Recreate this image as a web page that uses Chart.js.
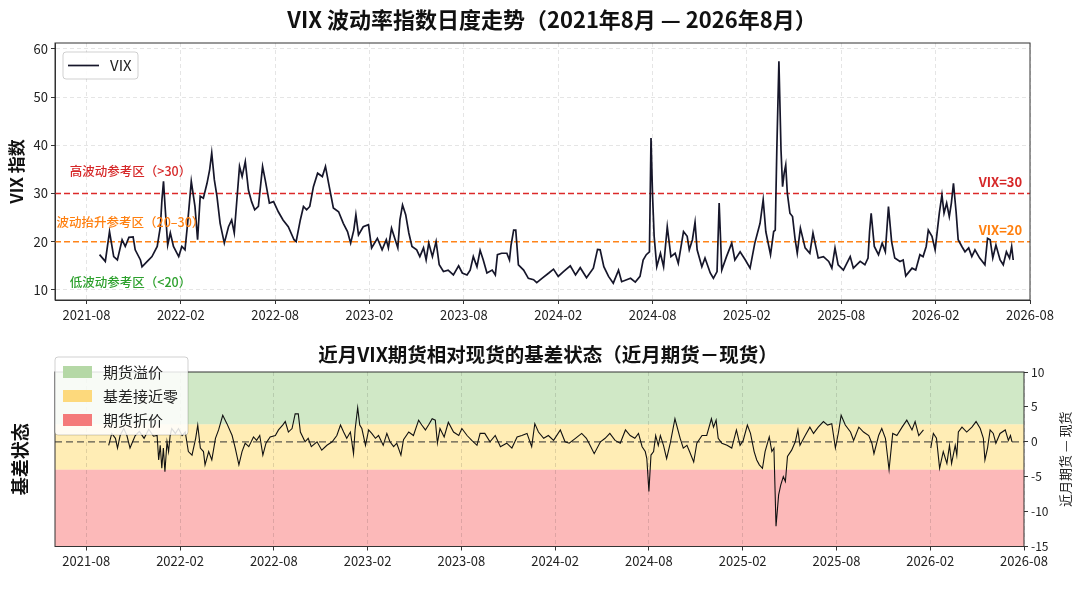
<!DOCTYPE html>
<html>
<head>
<meta charset="utf-8">
<title>VIX 波动率指数日度走势</title>
<script src="https://cdn.jsdelivr.net/npm/chart.js@4.4.1/dist/chart.umd.min.js"></script>
<style>
  html, body { margin: 0; padding: 0; background: #fff; }
  #wrap { position: relative; width: 1080px; height: 608px; }
  .box { position: absolute; left: 0; width: 1080px; }
  #topBox { top: 0; height: 330px; }
  #botBox { top: 330px; height: 278px; }
</style>
</head>
<body>
<div id="wrap">
  <div class="box" id="topBox"><canvas id="vixChart"></canvas></div>
  <div class="box" id="botBox"><canvas id="basisChart"></canvas></div>
</div>
<script>
// ---- data ----
const xRange = ['2021-06', '2026-08'];
const xTickLabels = ['2021-08', '2022-02', '2022-08', '2023-02', '2023-08', '2024-02',
                     '2024-08', '2025-02', '2025-08', '2026-02', '2026-08'];
const vixTicks = [10, 20, 30, 40, 50, 60];
const basisTicks = [-15, -10, -5, 0, 5, 10];
const refLevels = [30, 20];

const vixDates = [
  '2021-08-26','2021-09-07','2021-09-15','2021-09-23','2021-09-30','2021-10-09','2021-10-15','2021-10-22','2021-10-30',
  '2021-11-04','2021-11-14','2021-11-17','2021-11-27','2021-12-06','2021-12-16','2021-12-22','2021-12-25','2021-12-28',
  '2022-01-01','2022-01-06','2022-01-11','2022-01-17','2022-01-27','2022-02-03','2022-02-09','2022-02-14','2022-02-21',
  '2022-02-28','2022-03-03','2022-03-08','2022-03-14','2022-03-21','2022-03-26','2022-03-30','2022-04-05','2022-04-10',
  '2022-04-16','2022-04-24','2022-05-02','2022-05-08','2022-05-13','2022-05-18','2022-05-23','2022-05-28','2022-06-04',
  '2022-06-10','2022-06-16','2022-06-22','2022-06-29','2022-07-07','2022-07-12','2022-07-20','2022-07-28','2022-08-07',
  '2022-08-16','2022-08-26','2022-09-07','2022-09-11','2022-09-19','2022-09-25','2022-10-01','2022-10-07','2022-10-14',
  '2022-10-22','2022-11-01','2022-11-07','2022-11-13','2022-11-22','2022-12-02','2022-12-11','2022-12-19','2022-12-25',
  '2023-01-01','2023-01-05','2023-01-10','2023-01-19','2023-01-29','2023-02-05','2023-02-16','2023-02-25','2023-03-03',
  '2023-03-07','2023-03-13','2023-03-25','2023-03-29','2023-04-04','2023-04-10','2023-04-16','2023-04-22','2023-05-01',
  '2023-05-07','2023-05-14','2023-05-19','2023-05-24','2023-06-01','2023-06-08','2023-06-14','2023-06-22','2023-07-01',
  '2023-07-11','2023-07-21','2023-07-28','2023-08-07','2023-08-13','2023-08-19','2023-08-26','2023-09-02','2023-09-08',
  '2023-09-15','2023-09-25','2023-10-01','2023-10-05','2023-10-13','2023-10-23','2023-10-28','2023-11-01','2023-11-06',
  '2023-11-10','2023-11-15','2023-11-25','2023-12-04','2023-12-14','2023-12-20','2023-12-30',
  '2024-01-13','2024-01-22','2024-02-01','2024-02-11','2024-02-24','2024-03-04','2024-03-13','2024-03-25','2024-04-08',
  '2024-04-16','2024-04-21','2024-04-28','2024-05-07','2024-05-16','2024-05-26','2024-06-02','2024-06-19','2024-06-28',
  '2024-07-07','2024-07-13','2024-07-19','2024-07-25','2024-07-28','2024-08-01','2024-08-04','2024-08-09','2024-08-16',
  '2024-08-22','2024-08-29','2024-09-06','2024-09-14','2024-09-20','2024-09-30','2024-10-07','2024-10-11','2024-10-17',
  '2024-10-22','2024-10-26','2024-11-05','2024-11-11','2024-11-21','2024-11-27','2024-12-04','2024-12-08','2024-12-13',
  '2024-12-22',
  '2025-01-02','2025-01-08','2025-01-18','2025-01-28','2025-02-07','2025-02-16','2025-02-26','2025-03-02','2025-03-07',
  '2025-03-16','2025-03-22','2025-03-25','2025-03-28','2025-04-02','2025-04-06','2025-04-09','2025-04-12','2025-04-15',
  '2025-04-18','2025-04-23','2025-04-28','2025-05-03','2025-05-07','2025-05-13','2025-05-22','2025-06-01','2025-06-07',
  '2025-06-11','2025-06-17','2025-06-27','2025-07-07','2025-07-13','2025-07-19','2025-07-25','2025-08-05','2025-08-18',
  '2025-08-24','2025-09-07','2025-09-16','2025-09-22','2025-09-25','2025-09-28','2025-10-04','2025-10-12','2025-10-19',
  '2025-10-25','2025-11-01','2025-11-07','2025-11-13','2025-11-23','2025-11-29','2025-12-04','2025-12-16','2025-12-23',
  '2026-01-01','2026-01-07','2026-01-13','2026-01-17','2026-01-24','2026-01-30','2026-02-04','2026-02-08','2026-02-13',
  '2026-02-17','2026-02-22','2026-02-27','2026-03-01','2026-03-05','2026-03-10','2026-03-14','2026-03-21','2026-03-27',
  '2026-04-04','2026-04-10','2026-04-16','2026-04-25','2026-05-05','2026-05-10','2026-05-15','2026-05-20','2026-05-26',
  '2026-06-04','2026-06-10','2026-06-16','2026-06-22','2026-06-26','2026-06-29'
];
const vixValues = [
  17.3, 15.9, 22.1, 16.9, 16.2, 20.4, 19.0, 20.9, 21.0,
  18.3, 16.2, 14.8, 15.9, 16.9, 19.0, 23.1, 28.7, 32.5,
  27.3, 19.3, 21.8, 19.0, 16.9, 19.0, 18.3, 23.8, 32.5,
  27.3, 20.4, 29.4, 29.0, 32.1, 34.9, 38.4, 32.8, 29.4,
  23.8, 19.7, 23.1, 24.5, 21.8, 28.7, 35.6, 33.5, 36.6,
  30.7, 28.3, 26.6, 27.3, 35.6, 32.8, 28.0, 28.3, 26.2,
  24.5, 23.1, 20.4, 20.0, 24.5, 27.3, 26.6, 27.3, 31.4,
  34.2, 33.5, 35.6, 32.1, 27.0, 26.2, 23.8, 22.1, 19.7,
  22.4, 25.6, 21.4, 23.1, 23.5, 18.7, 20.7, 18.3, 20.4,
  18.7, 22.8, 18.7, 24.5, 27.6, 25.6, 21.8, 19.0, 18.3,
  16.9, 18.7, 16.2, 19.7, 16.9, 20.0, 15.2, 13.8, 14.1,
  13.1, 15.0, 13.5, 13.1, 14.1, 16.9, 14.8, 18.2, 16.2,
  13.5, 14.1, 13.1, 17.3, 17.6, 17.6, 16.2, 19.3, 22.4,
  22.4, 15.2, 14.1, 12.4, 12.1, 11.5, 12.4,
  13.5, 14.3, 12.8, 13.8, 15.0, 13.1, 14.6, 12.5, 14.5,
  18.4, 18.3, 14.8, 12.8, 11.4, 14.1, 11.7, 12.4, 11.6,
  12.8, 16.2, 17.3, 17.9, 41.5, 29.4, 21.1, 14.8, 17.6,
  14.8, 23.1, 16.9, 17.6, 15.5, 22.1, 21.1, 18.3, 20.4,
  24.0, 18.3, 14.8, 16.6, 13.5, 12.4, 13.8, 28.0, 14.1,
  16.9,
  19.7, 16.2, 17.9, 16.2, 14.5, 19.7, 23.8, 28.7, 22.1,
  17.3, 22.1, 22.4, 39.0, 57.4, 39.0, 31.4, 34.2, 35.9,
  30.1, 25.9, 25.2, 20.4, 17.6, 22.8, 18.7, 17.6, 21.8,
  19.7, 16.6, 16.9, 15.9, 14.5, 18.7, 15.2, 14.1, 16.9,
  14.5, 15.9, 15.2, 16.6, 22.1, 25.9, 19.0, 17.3, 19.7,
  17.9, 27.3, 20.0, 16.6, 15.9, 16.2, 12.9, 14.5, 14.1,
  17.3, 16.9, 19.0, 22.4, 21.1, 18.3, 22.1, 25.9, 29.7,
  25.9, 28.0, 25.2, 28.0, 32.1, 26.2, 20.4, 19.0, 17.9,
  18.7, 16.9, 18.3, 16.6, 15.2, 20.7, 20.4, 16.6, 19.3,
  16.2, 15.2, 17.9, 16.6, 19.0, 16.2
];

const basisDates = [
  '2021-09-14','2021-09-20','2021-09-27','2021-10-01','2021-10-06','2021-10-13','2021-10-19','2021-10-25','2021-10-30',
  '2021-11-05','2021-11-13','2021-11-22','2021-12-01','2021-12-10','2021-12-17','2021-12-20','2021-12-23','2021-12-26',
  '2021-12-29',
  '2022-01-02','2022-01-06','2022-01-09','2022-01-12','2022-01-15','2022-01-22','2022-01-28','2022-02-05','2022-02-11',
  '2022-02-17','2022-02-24','2022-03-01','2022-03-05','2022-03-10','2022-03-16','2022-03-19','2022-03-26','2022-04-02',
  '2022-04-09','2022-04-15','2022-04-23','2022-05-01','2022-05-11','2022-05-17','2022-05-24','2022-05-30','2022-06-06',
  '2022-06-13','2022-06-22','2022-06-28','2022-07-04','2022-07-10','2022-07-16','2022-07-24','2022-08-04','2022-08-10',
  '2022-08-18','2022-08-23','2022-08-29','2022-09-06','2022-09-12','2022-09-18','2022-09-22','2022-10-01','2022-10-07',
  '2022-10-13','2022-10-24','2022-11-03','2022-11-13','2022-11-23','2022-12-02','2022-12-09','2022-12-15','2022-12-21',
  '2022-12-28',
  '2023-01-04','2023-01-07','2023-01-12','2023-01-16','2023-01-20','2023-01-27','2023-02-03','2023-02-09','2023-02-16',
  '2023-02-22','2023-03-01','2023-03-08','2023-03-14','2023-03-21','2023-03-27','2023-04-05','2023-04-10','2023-04-20',
  '2023-04-29','2023-05-09','2023-05-15','2023-05-22','2023-05-28','2023-06-05','2023-06-11','2023-06-15','2023-06-20',
  '2023-06-28','2023-07-06','2023-07-16','2023-07-26','2023-08-02','2023-08-12','2023-08-21','2023-09-01','2023-09-07',
  '2023-09-16','2023-09-26','2023-10-06','2023-10-16','2023-10-28','2023-11-08','2023-11-18','2023-11-27','2023-12-07',
  '2023-12-16','2023-12-22','2023-12-29',
  '2024-01-09','2024-01-18','2024-01-28','2024-02-11','2024-02-20','2024-02-28','2024-03-10','2024-03-22','2024-04-01',
  '2024-04-08','2024-04-16','2024-04-28','2024-05-07','2024-05-16','2024-05-26','2024-06-06','2024-06-16','2024-06-25',
  '2024-07-04','2024-07-11','2024-07-18','2024-07-24','2024-07-27','2024-08-01','2024-08-05','2024-08-10','2024-08-14',
  '2024-08-19','2024-08-23','2024-08-29','2024-09-05','2024-09-12','2024-09-21','2024-10-01','2024-10-07','2024-10-14',
  '2024-10-19','2024-10-27','2024-11-03','2024-11-13','2024-11-22','2024-12-01','2024-12-05','2024-12-10','2024-12-14',
  '2024-12-21',
  '2025-01-01','2025-01-10','2025-01-19','2025-01-26','2025-02-02','2025-02-10','2025-02-16','2025-02-23','2025-02-28',
  '2025-03-03','2025-03-09','2025-03-14','2025-03-22','2025-03-27','2025-04-01','2025-04-05','2025-04-10','2025-04-14',
  '2025-04-19','2025-04-23','2025-04-27','2025-05-05','2025-05-12','2025-05-17','2025-05-21','2025-06-01','2025-06-10',
  '2025-06-17','2025-06-26','2025-07-06','2025-07-14','2025-07-22','2025-07-29','2025-08-05','2025-08-10','2025-08-18',
  '2025-08-28','2025-09-04','2025-09-14','2025-09-23','2025-10-03','2025-10-09','2025-10-13','2025-10-22','2025-10-28',
  '2025-11-05','2025-11-12','2025-11-19','2025-11-27','2025-12-07','2025-12-16','2025-12-26',
  '2026-01-02','2026-01-09','2026-01-18','2026-01-25','2026-02-02','2026-02-07','2026-02-13','2026-02-19','2026-02-26',
  '2026-03-03','2026-03-08','2026-03-12','2026-03-19','2026-03-22','2026-03-25','2026-04-02','2026-04-11','2026-04-21',
  '2026-04-29','2026-05-07','2026-05-13','2026-05-16','2026-05-21','2026-05-26','2026-06-02','2026-06-07','2026-06-15',
  '2026-06-25','2026-07-01','2026-07-05','2026-07-08'
];
const basisValues = [
  -0.5, 1.2, 0.5, -0.9, 0.9, 1.9, 0.9, -0.9, 0.0,
  0.9, 1.5, 0.5, 1.8, 0.8, 0.9, -2.6, -0.5, -3.8,
  -0.9,
  -4.3, 0.0, -1.4, 0.9, 1.9, 1.2, 1.9, 0.9, 1.4,
  -1.4, -1.9, 0.5, 2.4, -0.9, -1.4, -3.3, -1.4, -2.6,
  0.5, 1.7, 3.8, 2.6, 0.9, -0.9, -3.3, -1.4, -0.2,
  -0.7, 0.7, 0.2, 0.9, -1.9, -0.2, 0.7, 0.9, 1.7,
  2.4, 2.9, 1.4, 1.9, 4.0, 4.0, 1.4, 0.0, 0.5,
  -0.7, 0.0, -1.2, -0.5, 0.0, 0.9, 2.4, 1.4, 0.5,
  1.4,
  -1.7, 1.7, 4.9, 2.4, 1.9, -0.5, 1.7, 1.2, 0.5,
  0.9, -0.5, 1.2, 0.0, -0.7, -0.2, -1.9, 0.3, 1.4,
  0.9, 3.1, 2.4, 1.7, 2.4, 3.3, 3.1, -0.2, 1.9,
  0.7, 2.8, 1.4, 0.9, 1.9, 0.9, 0.2, -0.5, 1.2,
  1.2, 0.0, 0.9, -0.7, -0.2, -0.9, 0.7, 0.9, 1.2,
  -0.7, 2.6, 1.4,
  0.5, 0.9, 0.2, 1.7, 0.0, -0.2, 0.5, 1.2, 0.5,
  -0.5, -1.7, 0.0, 0.5, 1.2, 0.2, -0.2, 1.7, 0.9,
  0.5, 1.2, -0.7, -1.4, -2.4, -7.1, -1.9, -1.4, 0.9,
  -0.5, 0.9, -0.5, -2.4, -0.2, 3.3, 0.5, -0.9, -0.5,
  -1.4, -2.9, -0.2, 0.9, 0.9, 3.3, 2.1, 3.1, 0.5,
  -0.2,
  -0.5, -0.9, 1.7, -0.5, 0.2, 2.4, 1.2, -1.4, -2.6,
  -3.3, -3.8, -1.4, 0.7, -1.4, -0.9, -12.1, -7.6, -6.2,
  -5.0, -5.7, -2.1, -1.2, 0.0, 1.7, -0.5, 0.9, 2.1,
  1.2, 2.1, 2.9, 2.4, 2.6, -0.9, 1.4, 3.8, 2.4,
  1.4, 0.2, 2.1, 1.4, 0.9, -0.2, -1.7, 0.9, 1.9,
  0.5, -4.0, 1.2, 0.9, 2.1, 3.1, 1.7,
  2.9, 0.9, 1.7, null, -0.9, 1.2, 0.5, -3.8, -1.4,
  -3.1, -0.5, -3.1, -0.5, -1.9, 1.4, 2.1, 1.4, 2.1,
  2.9, 1.9, 0.5, -2.6, -0.9, 1.7, 1.2, -0.2, 1.2,
  1.7, 0.2, 0.9, 0.0
];

const bandNames = ['期货溢价', '基差接近零', '期货折价'];
const bandLow = [2.5, -4, -15];
const bandHigh = [10, 2.5, -4];

// ---- helpers ----
const fam = "'Noto Sans CJK SC', 'Noto Sans', sans-serif";
Chart.defaults.font.family = fam;
Chart.defaults.color = '#222';
Chart.defaults.animation = false;

// months since 2021-08-01 (linear x axis)
function toMonths(s) {
  const p = s.split('-').map(Number);
  return (p[0] - 2021) * 12 + (p[1] - 8) + ((p[2] || 1) - 1) / 30;
}
const xMin = toMonths(xRange[0]);
const xMax = toMonths(xRange[1]);
const xTicks = xTickLabels.map(toMonths);
const toPoints = (dates, vals) => dates.map((d, i) => ({ x: toMonths(d), y: vals[i] }));

function xScaleOpts(h, gridColor) {
  return {
    type: 'linear', min: xMin, max: xMax,
    afterBuildTicks: s => { s.ticks = xTicks.map(v => ({ value: v })); },
    afterFit: s => { s.height = h; },
    ticks: { callback: (v, i) => xTickLabels[i], autoSkip: false, maxRotation: 0, font: { size: 13 }, padding: 3 },
    grid: { color: gridColor, tickColor: '#333', tickLength: 4, tickBorderDash: [] },
    border: { color: '#333', dash: [4, 3] }
  };
}

function frame(ctx, a) {
  ctx.save();
  ctx.strokeStyle = '#333';
  ctx.lineWidth = 1;
  ctx.strokeRect(a.left, a.top, a.width, a.height);
  ctx.restore();
}

function legendBox(ctx, x, y, w, h) {
  ctx.save();
  ctx.fillStyle = 'rgba(255,255,255,0.85)';
  ctx.strokeStyle = 'rgba(0,0,0,0.18)';
  ctx.lineWidth = 1;
  ctx.beginPath();
  ctx.roundRect(x, y, w, h, 3);
  ctx.fill();
  ctx.stroke();
  ctx.restore();
}

// ---- top: VIX daily line ----
const vixDecor = {
  id: 'vixDecor',
  afterDatasetsDraw(chart) {
    const { ctx, chartArea, scales: { x, y } } = chart;
    ctx.save();
    ctx.textBaseline = 'middle';
    ctx.textAlign = 'center';
    ctx.font = '500 12.5px ' + fam;
    const notes = [
      ['高波动参考区（>30）', 34.6, '#d62728'],
      ['波动抬升参考区（20–30）', 24.0, '#ff7f0e'],
      ['低波动参考区（<20）', 11.5, '#2ca02c']
    ];
    notes.forEach(n => {
      ctx.fillStyle = n[2];
      ctx.fillText(n[0], x.getPixelForValue(2.8), y.getPixelForValue(n[1]));
    });
    ctx.textAlign = 'right';
    ctx.font = 'bold 13px ' + fam;
    ctx.fillStyle = '#d62728';
    ctx.fillText('VIX=' + refLevels[0], x.getPixelForValue(59.5), y.getPixelForValue(refLevels[0] + 2.4));
    ctx.fillStyle = '#ff7f0e';
    ctx.fillText('VIX=' + refLevels[1], x.getPixelForValue(59.5), y.getPixelForValue(refLevels[1] + 2.5));
    ctx.restore();
    frame(ctx, chartArea);
  },
  afterDraw(chart) {
    const ctx = chart.ctx;
    ctx.save();
    ctx.fillStyle = '#111';
    ctx.font = 'bold 22px ' + fam;
    ctx.textAlign = 'center';
    ctx.textBaseline = 'middle';
    ctx.fillText('VIX 波动率指数日度走势（2021年8月 — 2026年8月）', 552, 20);
    // legend
    legendBox(ctx, 63, 52, 75, 27);
    ctx.strokeStyle = '#16162a';
    ctx.lineWidth = 1.7;
    ctx.beginPath();
    ctx.moveTo(68, 65.5);
    ctx.lineTo(99, 65.5);
    ctx.stroke();
    ctx.fillStyle = '#222';
    ctx.font = '15px ' + fam;
    ctx.textAlign = 'left';
    ctx.fillText('VIX', 110, 65.5);
    ctx.restore();
  }
};

// light dashed grid, left out where a reference line sits
const vixGridColor = c => (c.tick && refLevels.includes(c.tick.value)) ? 'rgba(0,0,0,0)' : 'rgba(0,0,0,0.10)';

new Chart(document.getElementById('vixChart'), {
  type: 'line',
  data: {
    datasets: [
      {
        label: 'VIX',
        data: toPoints(vixDates, vixValues),
        borderColor: '#16162a',
        borderWidth: 1.7,
        pointRadius: 0,
        order: 0
      },
      {
        label: 'VIX=30',
        data: [{ x: xMin, y: refLevels[0] }, { x: xMax, y: refLevels[0] }],
        borderColor: '#dc2a2a',
        borderWidth: 1.5,
        borderDash: [6, 3],
        pointRadius: 0,
        order: 1
      },
      {
        label: 'VIX=20',
        data: [{ x: xMin, y: refLevels[1] }, { x: xMax, y: refLevels[1] }],
        borderColor: '#ff8419',
        borderWidth: 1.5,
        borderDash: [6, 3],
        pointRadius: 0,
        order: 1
      }
    ]
  },
  options: {
    responsive: true,
    maintainAspectRatio: false,
    layout: { padding: { top: 43, right: 50, left: 0, bottom: 0 } },
    scales: {
      x: xScaleOpts(30, 'rgba(0,0,0,0.10)'),
      y: {
        min: 7.9, max: 61.2,
        afterBuildTicks: s => { s.ticks = vixTicks.map(v => ({ value: v })); },
        afterFit: s => { s.width = 55; },
        ticks: { font: { size: 13 }, padding: 3 },
        grid: { color: vixGridColor, tickColor: '#333', tickLength: 4, tickBorderDash: [] },
        border: { color: '#333', dash: [4, 3] },
        title: { display: true, text: 'VIX 指数', color: '#111', font: { size: 17, weight: 'bold' }, padding: { top: 6, bottom: 0 } }
      }
    },
    plugins: { legend: { display: false }, tooltip: { enabled: false } }
  },
  plugins: [vixDecor]
});

// ---- bottom: basis state ----
const bandFill = ['rgba(176,216,160,0.6)', 'rgba(255,222,120,0.55)', 'rgba(250,120,120,0.52)'];
const bandPatch = ['#b5d8a6', '#fdd97c', '#f47a7a'];

const basisDecor = {
  id: 'basisDecor',
  beforeDraw(chart) {
    const { ctx, chartArea: a, scales: { yR } } = chart;
    ctx.save();
    bandNames.forEach((n, i) => {
      const top = yR.getPixelForValue(bandHigh[i]);
      const bot = yR.getPixelForValue(bandLow[i]);
      ctx.fillStyle = bandFill[i];
      ctx.fillRect(a.left, top, a.width, bot - top);
    });
    ctx.restore();
  },
  afterDatasetsDraw(chart) {
    frame(chart.ctx, chart.chartArea);
  },
  afterDraw(chart) {
    const { ctx, chartArea: a } = chart;
    ctx.save();
    ctx.fillStyle = '#111';
    ctx.font = 'bold 19.5px ' + fam;
    ctx.textAlign = 'center';
    ctx.textBaseline = 'middle';
    ctx.fillText('近月VIX期货相对现货的基差状态（近月期货－现货）', 548, 25);
    // right axis title, rotated like the left one
    ctx.save();
    ctx.translate(1065, (a.top + a.bottom) / 2);
    ctx.rotate(-Math.PI / 2);
    ctx.font = '13px ' + fam;
    ctx.fillStyle = '#222';
    ctx.fillText('近月期货 — 现货', 0, 0);
    ctx.restore();
    // legend
    legendBox(ctx, 55, 27, 133, 78);
    ctx.font = '15px ' + fam;
    ctx.textAlign = 'left';
    bandNames.forEach((n, i) => {
      const cy = 42 + i * 24;
      ctx.fillStyle = bandPatch[i];
      ctx.fillRect(63, cy - 6, 29, 12);
      ctx.fillStyle = '#222';
      ctx.fillText(n, 103, cy);
    });
    ctx.restore();
  }
};

new Chart(document.getElementById('basisChart'), {
  type: 'line',
  data: {
    datasets: [
      {
        label: '基差',
        data: toPoints(basisDates, basisValues),
        yAxisID: 'yR',
        borderColor: '#111',
        borderWidth: 1.1,
        pointRadius: 0,
        order: 0
      },
      {
        label: '零线',
        data: [{ x: xMin, y: 0 }, { x: xMax, y: 0 }],
        yAxisID: 'yR',
        borderColor: 'rgba(50,50,50,0.8)',
        borderWidth: 1.2,
        borderDash: [7, 4],
        pointRadius: 0,
        order: 1
      }
    ]
  },
  options: {
    responsive: true,
    maintainAspectRatio: false,
    layout: { padding: { top: 42, right: 0, left: 0, bottom: 0 } },
    scales: {
      x: xScaleOpts(61.5, 'rgba(0,0,0,0.12)'),
      yL: {
        position: 'left',
        min: -15, max: 10,
        afterFit: s => { s.width = 55; },
        ticks: { display: false },
        grid: { display: false },
        border: { display: false },
        title: { display: true, text: '基差状态', color: '#111', font: { size: 18, weight: 'bold' }, padding: { top: 9, bottom: 0 } }
      },
      yR: {
        position: 'right',
        min: -15, max: 10,
        afterBuildTicks: s => { s.ticks = basisTicks.map(v => ({ value: v })); },
        afterFit: s => { s.width = 56; },
        ticks: { font: { size: 12 }, padding: 3 },
        grid: { drawOnChartArea: false, tickColor: '#333', tickLength: 4 },
        border: { display: false }
      }
    },
    plugins: { legend: { display: false }, tooltip: { enabled: false } }
  },
  plugins: [basisDecor]
});
</script>
</body>
</html>
